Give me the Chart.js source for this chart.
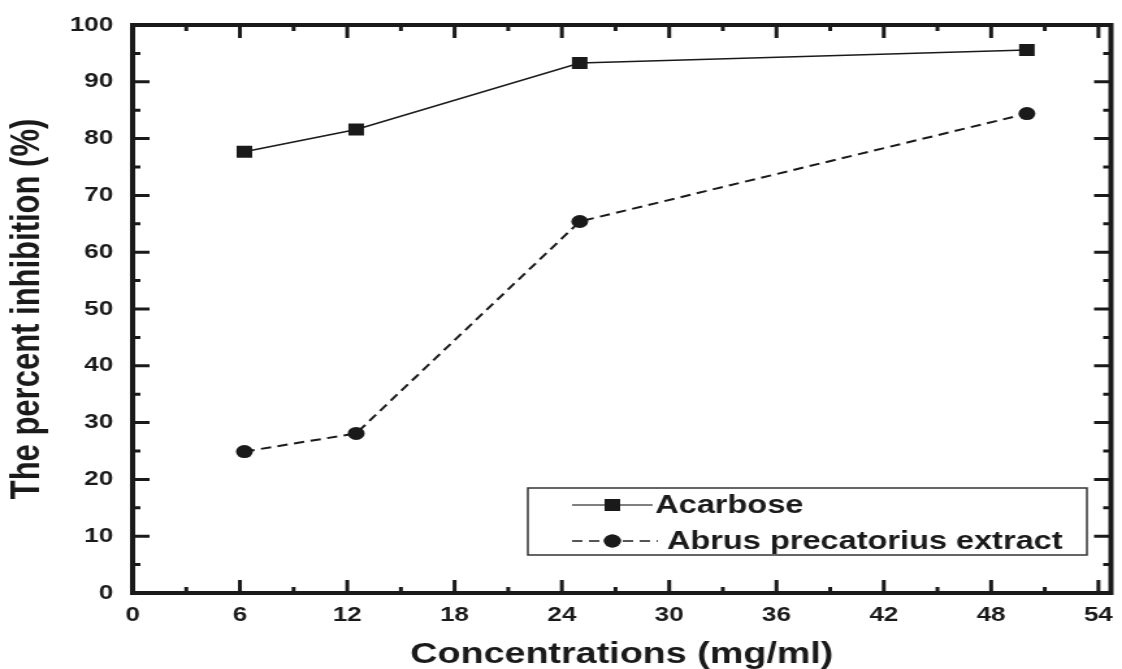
<!DOCTYPE html>
<html>
<head>
<meta charset="utf-8">
<script src="https://cdn.jsdelivr.net/npm/chart.js@4.4.1/dist/chart.umd.min.js"></script>
<style>
  html, body { margin: 0; padding: 0; background: #fff; overflow: hidden; }
  /* the source figure is stretched sideways, so draw narrow and stretch the box */
  #wrap { width: 863px; height: 669px; transform: scaleX(1.30012); transform-origin: 0 0; }
</style>
</head>
<body>
<div id="wrap"><canvas id="inhibitionChart" width="863" height="669"></canvas></div>
<script>
const concentrations = [6.25, 12.5, 25, 50];
const acarbose = [77.7, 81.6, 93.3, 95.6];
const abrus = [24.9, 28.1, 65.4, 84.4];
const xTickValues = [0, 6, 12, 18, 24, 30, 36, 42, 48, 54];
const yTickValues = [0, 10, 20, 30, 40, 50, 60, 70, 80, 90, 100];
const seriesNames = ['Acarbose', 'Abrus precatorius extract'];

const ink = '#1a1a1a';
Chart.defaults.font.family = "'Liberation Sans', Arial, sans-serif";
Chart.defaults.color = ink;

function toPoints(values){
    return values.map((v, i) => ({x: concentrations[i], y: v}));
}

// inner tick marks on all four sides plus the closed frame
const framePlugin = {
    id: 'frame',
    afterDraw(chart){
        const ctx = chart.ctx;
        const a = chart.chartArea;
        const xs = chart.scales.x, ys = chart.scales.y;
        ctx.save();
        ctx.strokeStyle = ink;
        ctx.lineWidth = 3;
        for (let v = 0; v <= 54; v += 3) {
            const px = xs.getPixelForValue(v);
            const len = (v % 6 === 0) ? 13 : 6;
            ctx.beginPath();
            ctx.moveTo(px, a.bottom); ctx.lineTo(px, a.bottom - len);
            ctx.moveTo(px, a.top); ctx.lineTo(px, a.top + len);
            ctx.stroke();
        }
        for (let v = 0; v <= 100; v += 5) {
            const py = ys.getPixelForValue(v);
            const len = (v % 10 === 0) ? 13 : 6;
            ctx.beginPath();
            ctx.moveTo(a.left, py); ctx.lineTo(a.left + len, py);
            ctx.moveTo(a.right, py); ctx.lineTo(a.right - len, py);
            ctx.stroke();
        }
        ctx.lineWidth = 4;
        ctx.strokeRect(a.left, a.top, a.right - a.left, a.bottom - a.top);
        ctx.restore();
    }
};

// boxed legend with line - marker - line samples
const legendPlugin = {
    id: 'boxLegend',
    afterDraw(chart){
        const ctx = chart.ctx;
        const rows = [505, 541];
        ctx.save();
        ctx.strokeStyle = '#333';
        ctx.lineWidth = 1.5;
        ctx.strokeRect(406, 488, 430, 67);
        chart.data.datasets.forEach((ds, i) => {
            const y = rows[i];
            ctx.strokeStyle = '#555';
            ctx.lineWidth = i === 0 ? 1.5 : 2;
            ctx.setLineDash(ds.borderDash || []);
            ctx.beginPath();
            ctx.moveTo(440, y); ctx.lineTo(i === 0 ? 502 : 506, y);
            ctx.stroke();
            ctx.setLineDash([]);
            ctx.fillStyle = ink;
            Chart.helpers.drawPoint(ctx, {pointStyle: ds.pointStyle, radius: ds.pointRadius, borderWidth: 0}, 471, y);
            ctx.fill();
            ctx.font = "bold 25px 'Liberation Sans', Arial, sans-serif";
            ctx.textBaseline = 'middle';
            ctx.fillText(ds.label, i === 0 ? 504 : 513, y + 1);
        });
        ctx.restore();
    }
};

const ctx = document.getElementById('inhibitionChart').getContext('2d');
const myChart = new Chart(ctx, {
    type: 'line',
    data: {
        datasets: [{
            label: seriesNames[0],
            data: toPoints(acarbose),
            borderColor: ink,
            backgroundColor: ink,
            borderWidth: 1.5,
            pointStyle: 'rect',
            pointRadius: 8.5,
            pointBorderWidth: 0
        }, {
            label: seriesNames[1],
            data: toPoints(abrus),
            borderColor: ink,
            backgroundColor: ink,
            borderWidth: 2,
            borderDash: [8, 5],
            pointStyle: 'circle',
            pointRadius: 6.5,
            pointBorderWidth: 0
        }]
    },
    options: {
        responsive: false,
        animation: false,
        layout: {padding: {left: 0, top: 25, right: 4, bottom: 0}},
        plugins: {legend: {display: false}, tooltip: {enabled: false}},
        scales: {
            x: {
                type: 'linear',
                min: 0,
                max: 54.7,
                grid: {display: false, drawTicks: false},
                border: {display: false},
                afterBuildTicks: scale => { scale.ticks = xTickValues.map(v => ({value: v})); },
                afterFit: scale => { scale.height = 76; scale.paddingLeft = 0; scale.paddingRight = 0; },
                ticks: {padding: 10, font: {size: 20, weight: 'bold'}, color: ink},
                title: {
                    display: true,
                    text: 'Concentrations (mg/ml)',
                    font: {size: 29, weight: 'bold', lineHeight: 1},
                    padding: {top: 0, bottom: 0},
                    color: ink
                }
            },
            y: {
                min: 0,
                max: 100,
                grid: {display: false, drawTicks: false},
                border: {display: false},
                afterBuildTicks: scale => { scale.ticks = yTickValues.map(v => ({value: v})); },
                afterFit: scale => { scale.width = 102; scale.paddingTop = 0; scale.paddingBottom = 0; },
                ticks: {padding: 15, font: {size: 20, weight: 'bold'}, color: ink},
                title: {
                    display: true,
                    text: 'The percent inhibition (%)',
                    font: {size: 31, weight: 'bold', lineHeight: 1},
                    padding: {top: 6, bottom: 0},
                    color: ink
                }
            }
        }
    },
    plugins: [framePlugin, legendPlugin]
});
</script>
</body>
</html>
